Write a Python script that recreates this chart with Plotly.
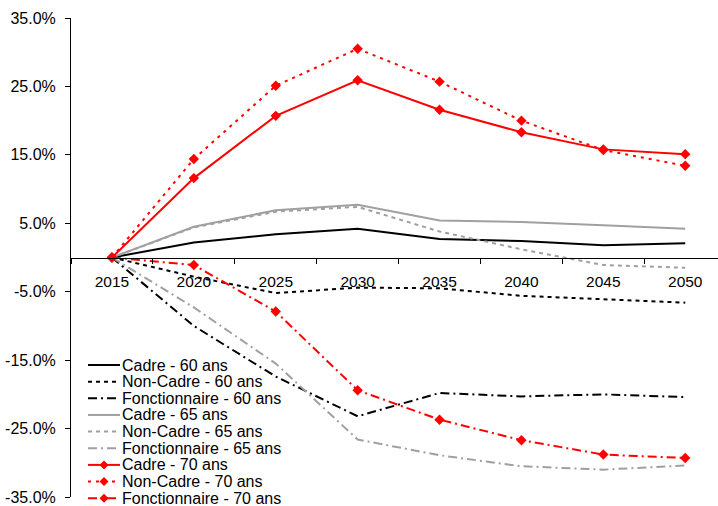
import plotly.graph_objects as go

# Years on the category axis
years = ["2015", "2020", "2025", "2030", "2035", "2040", "2045", "2050"]

# Variation (%) by status and retirement age
cadre_60 = [0.0, 2.2, 3.4, 4.2, 2.7, 2.4, 1.8, 2.1]
non_cadre_60 = [0.0, -2.8, -5.2, -4.4, -4.5, -5.6, -6.1, -6.6]
fonct_60 = [0.0, -10.0, -17.4, -23.2, -19.8, -20.3, -20.0, -20.4]
cadre_65 = [0.0, 4.5, 6.9, 7.7, 5.4, 5.2, 4.7, 4.2]
non_cadre_65 = [0.0, 4.4, 6.7, 7.4, 3.8, 1.2, -1.1, -1.5]
fonct_65 = [0.0, -7.3, -15.5, -26.6, -28.9, -30.5, -31.0, -30.4]
cadre_70 = [0.0, 11.6, 20.7, 25.9, 21.6, 18.3, 15.8, 15.1]
non_cadre_70 = [0.0, 14.4, 25.1, 30.5, 25.7, 20.0, 15.7, 13.4]
fonct_70 = [0.0, -1.1, -7.9, -19.4, -23.7, -26.7, -28.8, -29.3]

y_ticks = [35, 25, 15, 5, -5, -15, -25, -35]

BLACK = "#000000"
GREY = "#a0a0a0"
RED = "#ff0000"
DOT = "4px,4px"
RED_DOT = "3px,5px"
DASHDOT = "9px,4px,2px,4px"

series = [
    ("Cadre - 60 ans", cadre_60, BLACK, "solid", False),
    ("Non-Cadre - 60 ans", non_cadre_60, BLACK, DOT, False),
    ("Fonctionnaire - 60 ans", fonct_60, BLACK, DASHDOT, False),
    ("Cadre - 65 ans", cadre_65, GREY, "solid", False),
    ("Non-Cadre - 65 ans", non_cadre_65, GREY, DOT, False),
    ("Fonctionnaire - 65 ans", fonct_65, GREY, DASHDOT, False),
    ("Cadre - 70 ans", cadre_70, RED, "solid", True),
    ("Non-Cadre - 70 ans", non_cadre_70, RED, RED_DOT, True),
    ("Fonctionnaire - 70 ans", fonct_70, RED, DASHDOT, True),
]

FONT = "Liberation Sans, Arial, sans-serif"
W, H = 718, 506
L, R, T, B = 71, 0, 18, 9
PW, PH = W - L - R, H - T - B


def px_x(px):
    return (px - L) / PW


def px_y(py):
    return (H - B - py) / PH


fig = go.Figure()

for name, vals, color, dash, marked in series:
    fig.add_trace(go.Scatter(
        x=years, y=vals, name=name,
        mode="lines+markers" if marked else "lines",
        line=dict(color=color, width=2, dash=dash),
        marker=dict(symbol="diamond", size=8, color=color),
        showlegend=False,
    ))

# Legend drawn by hand: swatch shapes plus text annotations
row0, row_step = 365.0, 16.65
sw_x0, sw_x1 = 88, 120
shapes, annotations = [], []
for i, (name, vals, color, dash, marked) in enumerate(series):
    yy = px_y(row0 + i * row_step)
    shapes.append(dict(
        type="line", xref="paper", yref="paper",
        x0=px_x(sw_x0), x1=px_x(sw_x1), y0=yy, y1=yy,
        line=dict(color=color, width=2, dash=dash),
    ))
    if marked:
        shapes.append(dict(
            type="path", xref="paper", yref="paper",
            xsizemode="pixel", ysizemode="pixel",
            xanchor=px_x((sw_x0 + sw_x1) / 2), yanchor=yy,
            path="M 0,4.5 L 4.5,0 L 0,-4.5 L -4.5,0 Z",
            fillcolor=color, line=dict(color=color, width=0),
        ))
    annotations.append(dict(
        x=px_x(sw_x1), y=yy, xref="paper", yref="paper",
        text=name, showarrow=False, xanchor="left", yanchor="middle",
        font=dict(family=FONT, size=16, color="#000000"),
    ))

fig.update_layout(
    width=W, height=H,
    margin=dict(l=L, r=R, t=T, b=B, autoexpand=False),
    paper_bgcolor="white", plot_bgcolor="white",
    font=dict(family=FONT, size=16, color="#000000"),
    shapes=shapes,
    annotations=annotations,
    xaxis=dict(
        type="category", range=[-0.5, 7.4],
        anchor="free", position=0.5,
        showline=True, linecolor="#000000", linewidth=1,
        ticks="outside", ticklen=5, tickcolor="#000000", tickson="boundaries",
        showgrid=False, zeroline=False,
        tickfont=dict(size=15.5), ticklabelstandoff=10,
    ),
    yaxis=dict(
        range=[-35, 35], tickvals=y_ticks,
        ticktext=[f"{v:.1f}%" for v in y_ticks],
        showline=True, linecolor="#000000", linewidth=1,
        ticks="outside", ticklen=5, tickcolor="#000000",
        showgrid=False, zeroline=False,
        tickfont=dict(size=16), ticklabelstandoff=6,
    ),
    showlegend=False,
)

fig.write_html("out.html")
